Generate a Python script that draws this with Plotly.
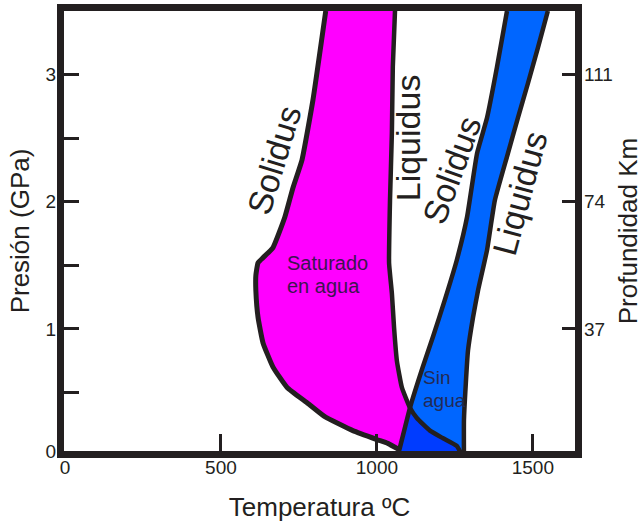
import plotly.graph_objects as go

# ---- data (Temperature in degC, Pressure in GPa) ----
wet_solidus_T = [836, 795, 760, 731, 705, 667, 635, 619, 612, 612, 619, 635, 667, 712, 776, 833, 923, 1000, 1035, 1072]
wet_solidus_P = [3.50, 2.80, 2.33, 2.11, 1.88, 1.64, 1.56, 1.52, 1.42, 1.30, 1.09, 0.89, 0.70, 0.54, 0.42, 0.31, 0.20, 0.13, 0.10, 0.05]

wet_liquidus_T = [1058, 1051, 1048, 1042, 1039, 1048, 1055, 1064, 1080, 1106, 1128, 1170, 1212, 1256, 1268]
wet_liquidus_P = [3.50, 3.06, 2.54, 2.01, 1.52, 1.28, 1.01, 0.75, 0.54, 0.38, 0.30, 0.20, 0.14, 0.08, 0.03]

dry_solidus_T = [1417, 1385, 1353, 1321, 1289, 1256, 1218, 1180, 1147, 1106, 1072, 1066]
dry_solidus_P = [3.50, 3.06, 2.66, 2.38, 1.88, 1.54, 1.23, 0.94, 0.70, 0.38, 0.05, 0.00]

dry_liquidus_T = [1548, 1516, 1484, 1452, 1420, 1378, 1353, 1324, 1308, 1292, 1285, 1279, 1279]
dry_liquidus_P = [3.50, 3.21, 2.93, 2.66, 2.38, 2.01, 1.62, 1.30, 1.09, 0.83, 0.57, 0.28, 0.00]

x_ticks = [0, 500, 1000, 1500]
y_ticks = [0, 1, 2, 3]
depth_ticks = [37, 74, 111]
km_per_gpa = 37

INK = "#231f20"
MAGENTA = "#ff00ff"
BLUE = "#0066ff"
DEEP_BLUE = "#003cff"

Y_MIN, Y_MAX = 0.04, 3.5

# index where wet liquidus meets the dry solidus
ix_wl = wet_liquidus_T.index(1106)
ix_ds = dry_solidus_T.index(1106)

fig = go.Figure()

# magenta field (water saturated melting interval)
mag_T = wet_solidus_T + dry_solidus_T[ix_ds:][::-1] + wet_liquidus_T[:ix_wl + 1][::-1]
mag_P = wet_solidus_P + dry_solidus_P[ix_ds:][::-1] + wet_liquidus_P[:ix_wl + 1][::-1]
fig.add_trace(go.Scatter(x=mag_T, y=mag_P, fill="toself", fillcolor=MAGENTA,
                         mode="none", hoverinfo="skip", showlegend=False))

# blue field (dry melting interval)
blue_T = dry_solidus_T + dry_liquidus_T[::-1]
blue_P = dry_solidus_P + dry_liquidus_P[::-1]
fig.add_trace(go.Scatter(x=blue_T, y=blue_P, fill="toself", fillcolor=BLUE,
                         mode="none", hoverinfo="skip", showlegend=False))

# deep blue overlap below the wet liquidus
deep_T = dry_solidus_T[ix_ds:][::-1] + wet_liquidus_T[ix_wl + 1:] + [dry_liquidus_T[-1]]
deep_P = dry_solidus_P[ix_ds:][::-1] + wet_liquidus_P[ix_wl + 1:] + [dry_liquidus_P[-1]]
fig.add_trace(go.Scatter(x=deep_T, y=deep_P, fill="toself", fillcolor=DEEP_BLUE,
                         mode="none", hoverinfo="skip", showlegend=False))

for T, P, w in [(wet_solidus_T, wet_solidus_P, 5),
                (wet_liquidus_T, wet_liquidus_P, 4.5),
                (dry_solidus_T, dry_solidus_P, 4.5),
                (dry_liquidus_T, dry_liquidus_P, 4.5)]:
    fig.add_trace(go.Scatter(x=T, y=P, mode="lines",
                             line=dict(color=INK, width=w, shape="spline", smoothing=0.4),
                             hoverinfo="skip", showlegend=False))

# invisible trace so the right (depth) axis is drawn
fig.add_trace(go.Scatter(x=[0], y=[depth_ticks[0]], yaxis="y2", mode="markers",
                         marker=dict(opacity=0), hoverinfo="skip", showlegend=False))

curve_labels = [
    ("Solidus", 670, 2.33, -73),
    ("Liquidus", 1100, 2.50, -90),
    ("Solidus", 1240, 2.25, -70),
    ("Liquidus", 1458, 2.07, -75),
]
for txt, x, y, ang in curve_labels:
    fig.add_annotation(x=x, y=y, text=txt, showarrow=False, textangle=ang,
                       xanchor="center", yanchor="middle",
                       font=dict(family="Liberation Sans", size=34, color=INK))

field_labels = [
    ("Saturado", 705, 1.52, 20, "#3d1450"),
    ("en agua", 705, 1.34, 20, "#3d1450"),
    ("Sin", 1140, 0.62, 19, "#232a55"),
    ("agua", 1140, 0.44, 19, "#232a55"),
]
for txt, x, y, size, col in field_labels:
    fig.add_annotation(x=x, y=y, text=txt, showarrow=False,
                       xanchor="left", yanchor="middle",
                       font=dict(family="Liberation Sans", size=size, color=col))

tick_font = dict(family="Liberation Sans", size=19, color=INK)
title_font = dict(family="Liberation Sans", size=26, color=INK)

fig.update_layout(
    template="none",
    width=643, height=522,
    margin=dict(l=64, r=68, t=11, b=71, autoexpand=False),
    paper_bgcolor="white", plot_bgcolor="white",
    xaxis=dict(range=[-3, 1635], tickvals=x_ticks, ticks="inside", ticklen=17,
               tickwidth=2.5, tickcolor=INK, showline=True, linewidth=7,
               linecolor=INK, mirror=True, showgrid=False, zeroline=False,
               tickfont=tick_font, automargin=False, ticklabelstandoff=-7,
               title=dict(text="Temperatura ºC", font=title_font, standoff=25)),
    yaxis=dict(range=[Y_MIN, Y_MAX],
               tickvals=[max(v, Y_MIN) for v in y_ticks],
               ticktext=[str(v) for v in y_ticks],
               ticks="inside", ticklen=15,
               tickwidth=2.5, tickcolor=INK, showline=True, linewidth=7,
               linecolor=INK, mirror=True, showgrid=False, zeroline=False,
               tickfont=tick_font, automargin=False, ticklabelstandoff=-3,
               minor=dict(dtick=0.5, tick0=0, ticks="inside", ticklen=15,
                          tickwidth=2.5, tickcolor=INK, showgrid=False),
               title=dict(text="Presión (GPa)", font=title_font, standoff=11)),
    yaxis2=dict(range=[Y_MIN * km_per_gpa, Y_MAX * km_per_gpa], tickvals=depth_ticks,
                overlaying="y", side="right", anchor="x", ticks="inside",
                ticklen=13, tickwidth=2.5, tickcolor=INK, showline=False,
                showgrid=False, zeroline=False, tickfont=tick_font,
                automargin=False, ticklabelstandoff=8,
                title=dict(text="Profundidad Km", font=title_font, standoff=6)),
)

fig.write_html("out.html", config={"displayModeBar": False},
               post_script="document.body.style.margin='0px';")
